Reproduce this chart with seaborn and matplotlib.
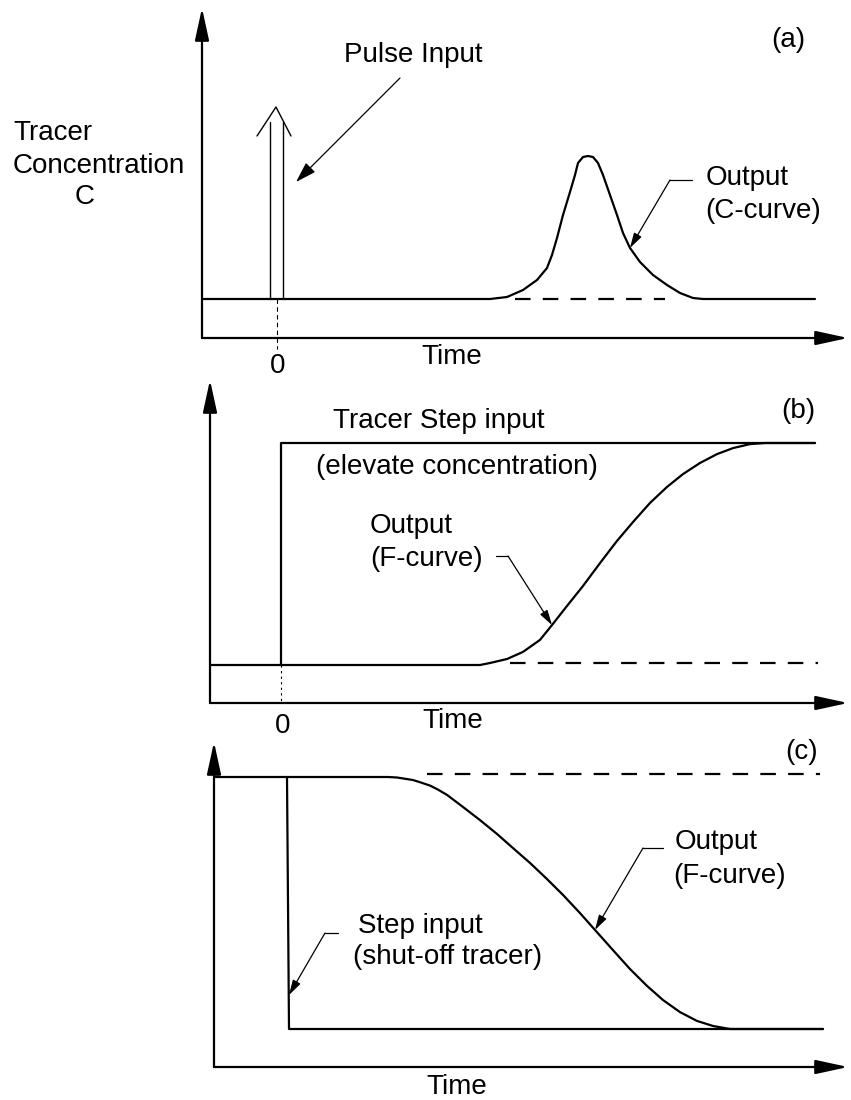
import matplotlib
matplotlib.use("Agg")
import matplotlib.pyplot as plt
import seaborn as sns
from matplotlib.lines import Line2D
from matplotlib.transforms import Affine2D

# (a) pulse input -> C-curve   (time units arbitrary, t=0 at the pulse)
a_time = [-7.5, 21.3, 23.0, 24.6, 26.0, 27.0, 27.5, 28.0, 28.6, 29.3, 29.8, 30.1,
          30.6, 31.1, 31.6, 32.1, 32.6, 33.3, 34.0, 34.6, 35.3, 36.3, 37.6, 39.0,
          40.3, 41.6, 42.6, 53.8]
a_conc = [0, 0, 0.2, 0.9, 1.9, 3.1, 4.4, 6.1, 8.4, 10.7, 12.4, 13.6,
          14.2, 14.3, 14.2, 13.6, 12.4, 10.4, 8.4, 6.6, 5.1, 3.7, 2.4, 1.4,
          0.6, 0.1, 0, 0]
a_pulse_left = [-0.7, -0.7]
a_pulse_right = [0.6, 0.6]
a_pulse_conc = [0, 17.7]
a_head_time = [-2.0, -0.1, 1.4]
a_head_conc = [16.3, 19.2, 16.3]
a_dash_time = [23.8, 38.8]
a_dash_conc = [0.05, 0.05]

# (b) step up -> F-curve
b_time = [-7.1, 19.9, 20.9, 22.6, 24.2, 25.9, 27.1, 28.6, 30.2, 31.9, 33.6, 35.2,
          36.9, 38.6, 40.2, 41.9, 43.6, 45.2, 46.9, 48.4, 53.4]
b_F = [0, 0, 0.009, 0.027, 0.059, 0.113, 0.180, 0.266, 0.356, 0.459, 0.559, 0.644,
       0.730, 0.802, 0.860, 0.910, 0.950, 0.977, 0.995, 1.0, 1.0]
b_step_time = [0, 0, 53.4]
b_step_F = [0, 1, 1]
b_dash_time = [22.9, 53.7]
b_dash_F = [0.01, 0.01]

# (c) step down -> F-curve
c_time = [-7.2, 9.3, 10.1, 11.0, 12.6, 13.4, 14.3, 15.1, 16.0, 17.6, 19.3, 21.0,
          22.6, 24.3, 26.0, 27.6, 29.3, 30.8, 32.6, 34.3, 36.0, 37.6, 39.3, 41.0,
          42.6, 44.3, 53.6]
c_F = [1.0, 1.0, 1.0, 0.998, 0.988, 0.978, 0.966, 0.950, 0.929, 0.881, 0.829, 0.774,
       0.718, 0.659, 0.595, 0.532, 0.460, 0.393, 0.313, 0.238, 0.171, 0.115, 0.067, 0.032,
       0.012, 0, 0]
c_step_time = [0, 0.2, 53.6]
c_step_F = [1, 0, 0]
c_dash_time = [14.0, 53.3]
c_dash_F = [1.012, 1.012]

sns.set_theme(style="white")
plt.rcParams['font.family'] = ['Liberation Sans', 'DejaVu Sans']

W, H = 851, 1100
fig = plt.figure(figsize=(W / 100, H / 100), dpi=100)
pix = Affine2D().scale(1 / W, -1 / H).translate(0, 1) + fig.transFigure

FS = 20
LW = 1.6
DASH = (0, (7, 5.5))


def panel(xl, yt, xr, yb, x0, y0, xscale, yscale):
    # axes placed on the pixel box, data origin at pixel (x0, y0)
    ax = fig.add_axes([xl / W, 1 - yb / H, (xr - xl) / W, (yb - yt) / H])
    ax.set_xlim((xl - x0) / xscale, (xr - x0) / xscale)
    ax.set_ylim((y0 - yb) / yscale, (y0 - yt) / yscale)
    ax.axis("off")
    axis_arrow = dict(arrowstyle="-|>,head_length=1.1,head_width=0.24", lw=LW,
                      color="black", shrinkA=0, shrinkB=0, mutation_scale=18)
    ax.annotate("", xy=(0, 1), xytext=(0, 0), xycoords="axes fraction",
                arrowprops=axis_arrow)
    ax.annotate("", xy=(1, 0), xytext=(0, 0), xycoords="axes fraction",
                arrowprops=axis_arrow)
    return ax


def line(ax, x, y, **kw):
    opts = dict(color="black", lw=LW, estimator=None, sort=False)
    opts.update(kw)
    sns.lineplot(x=x, y=y, ax=ax, **opts)


def leader(ax, tip, pts, lw=0.9):
    # short horizontal tail plus arrow onto the curve
    fig.add_artist(Line2D([p[0] for p in pts], [p[1] for p in pts],
                          transform=pix, color="black", lw=lw))
    ax.annotate("", xy=tip, xycoords="data", xytext=pts[-1], textcoords=pix,
                arrowprops=dict(arrowstyle="-|>,head_length=0.7,head_width=0.2",
                                lw=lw, color="black", shrinkA=0, shrinkB=0,
                                mutation_scale=13))


def label(x, y, s, ha="left", **kw):
    fig.text(x, y, s, transform=pix, ha=ha, va="center", fontsize=FS,
             color="black", **kw)


# ---- panel (a)
ax_a = panel(202, 8, 848, 338, 277, 299, 10, 10)
line(ax_a, a_time, a_conc)
line(ax_a, a_dash_time, a_dash_conc, linestyle=DASH)
line(ax_a, a_pulse_left, a_pulse_conc, lw=1.0)
line(ax_a, a_pulse_right, a_pulse_conc, lw=1.0)
line(ax_a, a_head_time, a_head_conc, lw=1.0)
ax_a.plot([0, 0], [0, -5.0], color="black", lw=0.8, linestyle=(0, (4, 3)),
          clip_on=False)
ax_a.annotate("", xy=(1.9, 11.7), xycoords="data", xytext=(400, 78), textcoords=pix,
              arrowprops=dict(arrowstyle="-|>,head_length=0.8,head_width=0.25",
                              lw=0.9, color="black", shrinkA=0, shrinkB=0,
                              mutation_scale=16))
leader(ax_a, (a_time[20], a_conc[20]), [(692, 180), (670, 180)])

label(13, 133, "Tracer")
label(13, 166, "Concentration")
label(85, 197, "C", ha="center")
label(413, 55, "Pulse Input", ha="center")
label(788, 40, "(a)", ha="center")
label(706, 178, "Output")
label(705, 211, "(C-curve)")
label(278, 366, "0", ha="center")
label(452, 357, "Time", ha="center")

# ---- panel (b)
ax_b = panel(210, 380, 848, 703, 281, 665, 10, 222)
line(ax_b, b_time, b_F)
line(ax_b, b_step_time, b_step_F)
line(ax_b, b_dash_time, b_dash_F, linestyle=DASH)
ax_b.plot([0, 0], [0, -0.17], color="black", lw=0.8, linestyle=(0, (2, 3)),
          clip_on=False)
leader(ax_b, (b_time[6], b_F[6]), [(496, 556), (508, 556)])

label(333, 421, "Tracer Step input")
label(316, 467, "(elevate concentration)")
label(798, 411, "(b)", ha="center")
label(370, 526, "Output")
label(370, 559, "(F-curve)")
label(283, 726, "0", ha="center")
label(453, 721, "Time", ha="center")

# ---- panel (c)
ax_c = panel(214, 742, 848, 1067, 287, 1029, 10, 252)
line(ax_c, c_time, c_F)
line(ax_c, c_step_time, c_step_F)
line(ax_c, c_dash_time, c_dash_F, linestyle=DASH)
leader(ax_c, (c_time[17], c_F[17]), [(663, 848), (643, 848)])
leader(ax_c, (0.2, 0.135), [(338, 933), (325, 933)])

label(802, 752, "(c)", ha="center")
label(675, 842, "Output")
label(673, 876, "(F-curve)")
label(358, 926, "Step input")
label(353, 957, "(shut-off tracer)")
label(457, 1087, "Time", ha="center")

fig.savefig("out.png", dpi=100)
